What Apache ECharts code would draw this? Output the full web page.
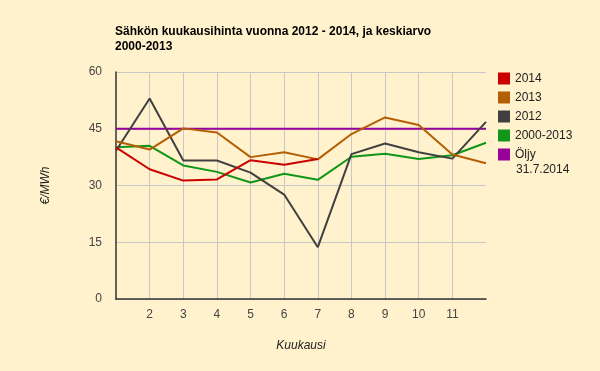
<!DOCTYPE html>
<html><head><meta charset="utf-8">
<script src="https://cdn.jsdelivr.net/npm/echarts@6/dist/echarts.min.js"></script>
<style>html,body{margin:0;padding:0;background:#fff2cc;}#c{width:600px;height:371px;}</style>
</head><body><div id="c"></div>
<script>
const months = ['1','2','3','4','5','6','7','8','9','10','11','12'];
const s2014 = [40.1, 34.3, 31.3, 31.6, 36.7, 35.5, 37.0];
const s2013 = [41.7, 39.5, 45.1, 44.0, 37.5, 38.8, 36.9, 43.6, 48.0, 46.0, 38.2, 35.9];
const s2012 = [39.2, 53.0, 36.6, 36.6, 33.4, 27.6, 13.7, 38.3, 41.1, 38.8, 37.1, 46.8];
const sAvg = [40.1, 40.5, 35.3, 33.6, 30.8, 33.1, 31.5, 37.6, 38.4, 37.0, 38.0, 41.3];
const sOil = [45, 45, 45, 45, 45, 45, 45, 45, 45, 45, 45, 45];
const seriesNames = ['2014', '2013', '2012', '2000-2013', 'Öljy 31.7.2014'];
const colors = ['#cc0000', '#b45f06', '#404040', '#109618', '#990099'];
const yTicks = {min: 0, max: 60, interval: 15};

const chart = echarts.init(document.getElementById('c'));
const font = 'Arial, "Liberation Sans", sans-serif';
const mk = (i, data) => ({
  name: seriesNames[i], type: 'line', data: data, showSymbol: false, symbol: 'none',
  lineStyle: {width: 2, color: colors[i]}, itemStyle: {color: colors[i]}, z: 10 - i
});
const oilParts = seriesNames[4].split(' ');
chart.setOption({
  backgroundColor: '#fff2cc',
  animation: false,
  textStyle: {fontFamily: font},
  title: {
    text: 'Sähkön kuukausihinta vuonna 2012 - 2014, ja keskiarvo\n2000-2013',
    left: 110, top: 19.5,
    textStyle: {fontFamily: font, fontSize: 12, fontWeight: 'bold', color: '#000', lineHeight: 15}
  },
  legend: {
    orient: 'vertical', left: 493, top: 65.5, icon: 'rect', itemWidth: 12, itemHeight: 12, itemGap: 3,
    data: seriesNames,
    formatter: n => n.split(' ')[0],
    textStyle: {fontFamily: font, fontSize: 12, color: '#222', lineHeight: 16}
  },
  graphic: [{
    type: 'text', left: 516, top: 164,
    style: {text: oilParts[1], fill: '#222', font: '12px ' + font}
  }],
  grid: {left: 116, right: 114, top: 72, bottom: 72, containLabel: false},
  xAxis: {
    type: 'category', data: months, boundaryGap: false,
    name: 'Kuukausi', nameLocation: 'middle', nameGap: 41,
    nameTextStyle: {fontFamily: font, fontSize: 12, fontStyle: 'italic', color: '#222'},
    axisLine: {show: true, lineStyle: {color: '#333', width: 1.5}},
    axisTick: {show: false},
    axisLabel: {interval: (i) => i > 0 && i < 11, color: '#444', fontSize: 12, margin: 10, fontFamily: font},
    splitLine: {show: true, interval: (i) => i > 0 && i < 11, lineStyle: {color: '#c8c8c8', width: 1}}
  },
  yAxis: {
    type: 'value', min: yTicks.min, max: yTicks.max, interval: yTicks.interval,
    name: '€/MWh', nameLocation: 'middle', nameGap: 64, nameRotate: 90,
    nameTextStyle: {fontFamily: font, fontSize: 12, fontStyle: 'italic', color: '#222'},
    axisLine: {show: true, lineStyle: {color: '#333', width: 1.5}},
    axisTick: {show: false},
    axisLabel: {color: '#444', fontSize: 12, margin: 14, fontFamily: font},
    splitLine: {show: true, lineStyle: {color: '#c8c8c8', width: 1}}
  },
  series: [mk(0, s2014), mk(1, s2013), mk(2, s2012), mk(3, sAvg), mk(4, sOil)]
});
</script></body></html>
